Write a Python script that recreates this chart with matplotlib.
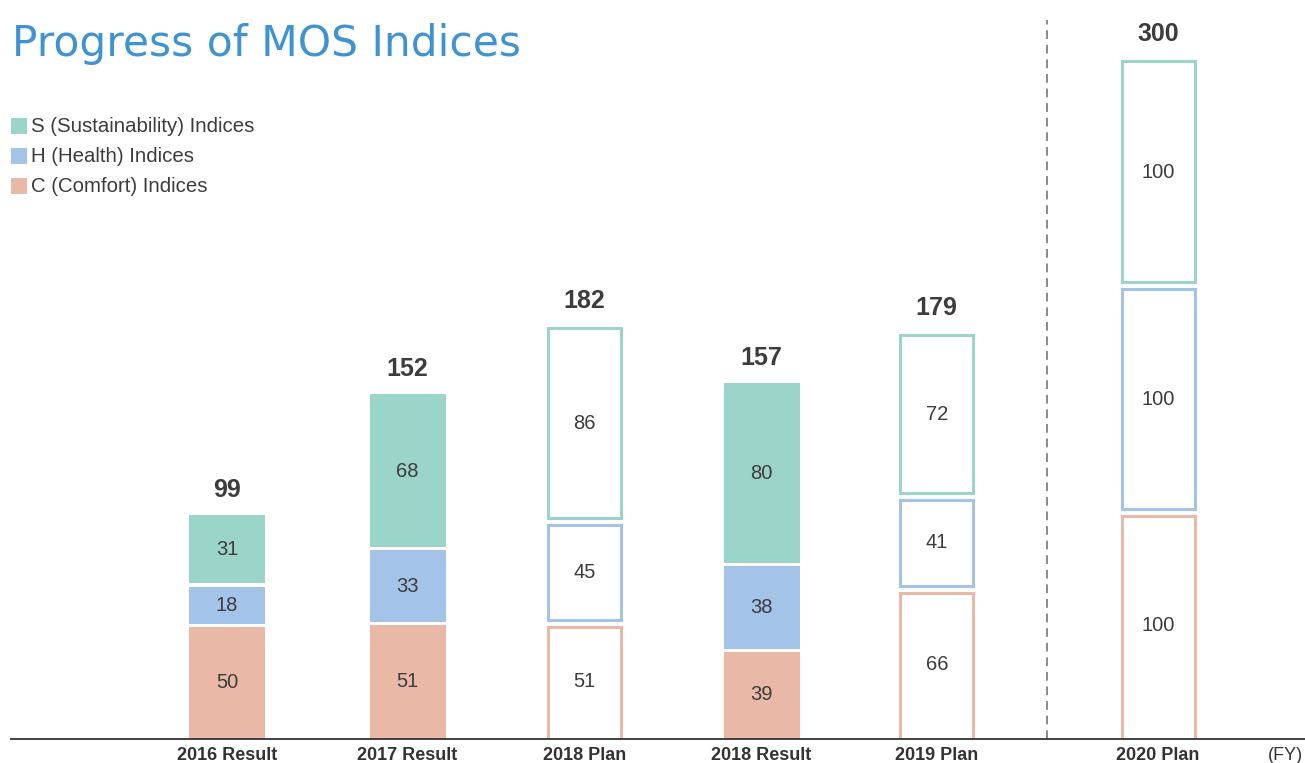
import matplotlib
matplotlib.use("Agg")
import matplotlib.pyplot as plt
from matplotlib.patches import Rectangle

categories = ["2016 Result", "2017 Result", "2018 Plan", "2018 Result", "2019 Plan", "2020 Plan"]
s_vals = [31, 68, 86, 80, 72, 100]
h_vals = [18, 33, 45, 38, 41, 100]
c_vals = [50, 51, 51, 39, 66, 100]
totals = [99, 152, 182, 157, 179, 300]
is_plan = [False, False, True, False, True, True]
series_names = ["S (Sustainability) Indices", "H (Health) Indices", "C (Comfort) Indices"]

COL_S = "#9bd5ca"
COL_H = "#a3c4e8"
COL_C = "#e9b8a6"
TXT = "#3c3c3c"

W, H = 1305, 763
fig = plt.figure(figsize=(W / 100, H / 100), dpi=100)
plt.rcParams['font.family'] = ['Liberation Sans', 'DejaVu Sans']

base_px = 739
ax = fig.add_axes([0, (H - base_px) / H, 1, base_px / H])
ppu = 680 / 300.0  # pixels per value unit
ax.set_ylim(0, base_px / ppu)
x0_px, step_px = 227, 177
ax.set_xlim(-x0_px / step_px, (W - x0_px) / step_px)
ax.axis("off")

x_pos = [0, 1.02, 2.02, 3.02, 4.01, 5.26]
bw_fill = 76 / step_px
bw_line = 73 / step_px
lw_px = 3
lw_line = lw_px * 72 / 100

for i, x in enumerate(x_pos):
    stack = [(c_vals[i], COL_C), (h_vals[i], COL_H), (s_vals[i], COL_S)]
    cum = 0
    for k, (v, col) in enumerate(stack):
        if is_plan[i]:
            gh = 2.0 / ppu
            hl = (lw_px / 2) / ppu
            b = cum + gh + hl if k > 0 else -hl
            t = cum + v - (gh if k < 2 else 0) - hl
            ax.add_patch(Rectangle((x - bw_line / 2, b), bw_line, t - b,
                                   facecolor="white", edgecolor=col, linewidth=lw_line,
                                   joinstyle="miter", zorder=2))
        else:
            gh = 1.75 / ppu
            b = cum + gh if k > 0 else 0
            t = cum + v - (gh if k < 2 else 0)
            ax.add_patch(Rectangle((x - bw_fill / 2, b), bw_fill, t - b,
                                   facecolor=col, edgecolor="none", linewidth=0, zorder=2))
        ax.text(x, cum + v / 2, str(v), ha="center", va="center", fontsize=14.5,
                color=TXT, zorder=3)
        cum += v
    ax.annotate(str(totals[i]), xy=(x, cum), xytext=(0, 13), textcoords="offset points",
                ha="center", va="baseline", fontsize=18, color=TXT, fontweight="bold")

ax.axhline(0, xmin=11 / W, xmax=1, color="#333333", linewidth=1.3, zorder=5, clip_on=False)

ax.plot([(1047 - x0_px) / step_px] * 2, [0, (base_px - 20) / ppu],
        color="#8a8a8a", linewidth=1.4, linestyle=(0, (4.5, 3)), zorder=1)

for x, lab in zip(x_pos, categories):
    fig.text((x0_px + x * step_px) / W, 1 - 755 / H, lab, ha="center", va="center",
             fontsize=13, color="#333333", fontweight="bold")
fig.text(1303 / W, 1 - 755 / H, "(FY)", ha="right", va="center", fontsize=13, color="#333333")

fig.text(12 / W, 1 - 44 / H, "Progress of MOS Indices", ha="left", va="center",
         fontsize=30.5, color="#3f93d2", family=["DejaVu Sans"])

for j, (name, col) in enumerate(zip(series_names, [COL_S, COL_H, COL_C])):
    yc = 126 + 30 * j
    fig.patches.append(Rectangle((11 / W, 1 - (yc + 8) / H), 16 / W, 16 / H,
                                 transform=fig.transFigure, facecolor=col, edgecolor="none"))
    fig.text(31 / W, 1 - (yc + 1) / H, name, ha="left", va="center", fontsize=14.7, color=TXT)

fig.savefig("out.png", dpi=100)
